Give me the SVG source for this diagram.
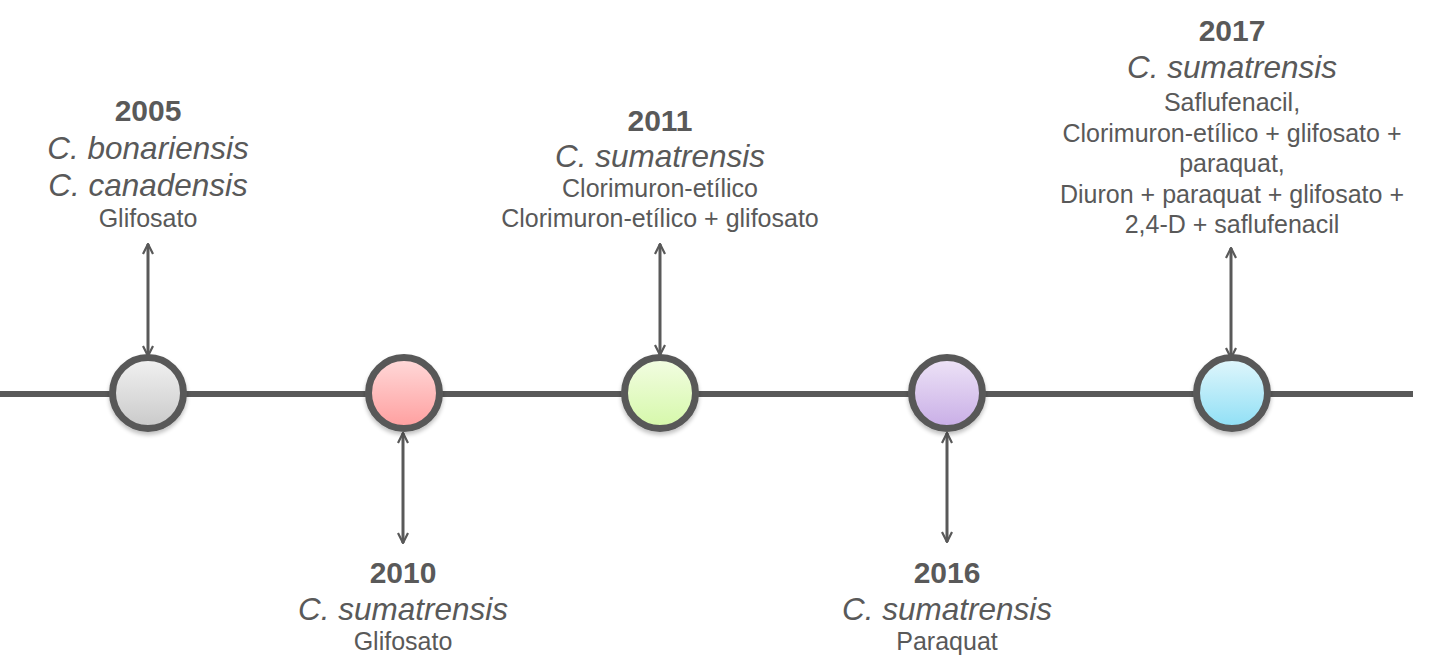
<svg xmlns="http://www.w3.org/2000/svg" width="1430" height="663" viewBox="0 0 1430 663">
<style>
text{font-family:"Liberation Sans",Arial,sans-serif;fill:#595959;text-anchor:middle}
.yr{font-weight:bold;font-size:30px}
.sp{font-style:italic;font-size:31.5px}
.hb{font-size:25px}
.node{stroke:#595959;stroke-width:7}
.conn{stroke:#595959;stroke-width:3;fill:none;marker-start:url(#ah);marker-end:url(#ah)}
</style>
<defs>
<marker id="ah" viewBox="0 0 12 12" refX="11" refY="6" markerWidth="12" markerHeight="12" markerUnits="userSpaceOnUse" orient="auto-start-reverse">
<path d="M1,1 L11,6 L1,11" fill="none" stroke="#595959" stroke-width="2.2"/>
</marker>
<linearGradient id="g1" x1="0" y1="0" x2="0" y2="1"><stop offset="0" stop-color="#f2f2f2"/><stop offset="1" stop-color="#c9c9c9"/></linearGradient>
<linearGradient id="g2" x1="0" y1="0" x2="0" y2="1"><stop offset="0" stop-color="#ffdada"/><stop offset="1" stop-color="#ff9e9e"/></linearGradient>
<linearGradient id="g3" x1="0" y1="0" x2="0" y2="1"><stop offset="0" stop-color="#f3fde3"/><stop offset="1" stop-color="#d5f8a9"/></linearGradient>
<linearGradient id="g4" x1="0" y1="0" x2="0" y2="1"><stop offset="0" stop-color="#eee4f7"/><stop offset="1" stop-color="#c8ade6"/></linearGradient>
<linearGradient id="g5" x1="0" y1="0" x2="0" y2="1"><stop offset="0" stop-color="#e2f7fc"/><stop offset="1" stop-color="#8edff5"/></linearGradient>
<filter id="sh" x="-30%" y="-30%" width="160%" height="170%"><feGaussianBlur in="SourceAlpha" stdDeviation="2"/><feOffset dy="3"/><feComponentTransfer><feFuncA type="linear" slope="0.25"/></feComponentTransfer><feMerge><feMergeNode/><feMergeNode in="SourceGraphic"/></feMerge></filter>
</defs>
<g id="connectors">
<line x1="0" y1="394" x2="1413" y2="394" stroke="#595959" stroke-width="6"/>
<line class="conn" x1="148" y1="244" x2="148" y2="356"/>
<line class="conn" x1="403" y1="433" x2="403" y2="543"/>
<line class="conn" x1="660" y1="244" x2="660" y2="355"/>
<line class="conn" x1="947" y1="433" x2="947" y2="542"/>
<line class="conn" x1="1231" y1="248" x2="1231" y2="358"/>
</g>
<g id="n2005">
<circle class="node" cx="148" cy="393" r="35.5" fill="url(#g1)" filter="url(#sh)"/>
<text class="yr" x="148" y="121">2005</text>
<text class="sp" x="148" y="159">C. bonariensis</text>
<text class="sp" x="148" y="196">C. canadensis</text>
<text class="hb" x="148" y="227">Glifosato</text>
</g>
<g id="n2010">
<circle class="node" cx="404" cy="393" r="35.5" fill="url(#g2)" filter="url(#sh)"/>
<text class="yr" x="403" y="583">2010</text>
<text class="sp" x="403" y="620">C. sumatrensis</text>
<text class="hb" x="403" y="650">Glifosato</text>
</g>
<g id="n2011">
<circle class="node" cx="660" cy="393" r="35.5" fill="url(#g3)" filter="url(#sh)"/>
<text class="yr" x="660" y="131">2011</text>
<text class="sp" x="660" y="167">C. sumatrensis</text>
<text class="hb" x="660" y="197">Clorimuron-etílico</text>
<text class="hb" x="660" y="227">Clorimuron-etílico + glifosato</text>
</g>
<g id="n2016">
<circle class="node" cx="947" cy="393" r="35.5" fill="url(#g4)" filter="url(#sh)"/>
<text class="yr" x="947" y="583">2016</text>
<text class="sp" x="947" y="620">C. sumatrensis</text>
<text class="hb" x="947" y="650">Paraquat</text>
</g>
<g id="n2017">
<circle class="node" cx="1232" cy="393" r="35.5" fill="url(#g5)" filter="url(#sh)"/>
<text class="yr" x="1232" y="41">2017</text>
<text class="sp" x="1232" y="78">C. sumatrensis</text>
<text class="hb" x="1232" y="111">Saflufenacil,</text>
<text class="hb" x="1232" y="142">Clorimuron-etílico + glifosato +</text>
<text class="hb" x="1232" y="172">paraquat,</text>
<text class="hb" x="1232" y="203">Diuron + paraquat + glifosato +</text>
<text class="hb" x="1232" y="233">2,4-D + saflufenacil</text>
</g>
</svg>
